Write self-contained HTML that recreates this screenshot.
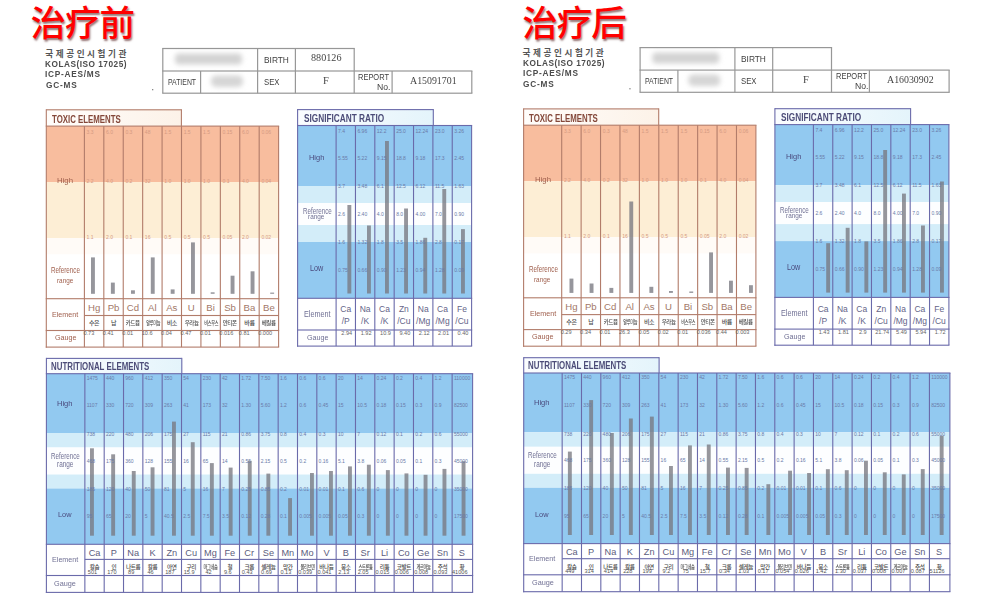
<!DOCTYPE html><html><head><meta charset="utf-8"><title>治疗前后对比</title><style>
*{margin:0;padding:0;box-sizing:border-box}
html,body{width:1000px;height:601px;overflow:hidden;background:#fff}
body{position:relative;font-family:"Liberation Sans","Noto Sans CJK KR",sans-serif}
body>div{position:absolute;white-space:nowrap}
.g{position:absolute;left:0;top:0}
.title{font-family:"Liberation Sans","Noto Sans CJK SC",sans-serif;font-weight:500;font-size:35.5px;line-height:44px;color:#ff0000;text-shadow:1px 2px 2px rgba(60,0,0,.55);letter-spacing:-1px}
.org{font-size:9px;line-height:11px;font-weight:bold;color:#4c4c4c;letter-spacing:.3px;transform:scaleX(.92);transform-origin:0 0}
.org.kor{font-family:"Liberation Sans","Noto Sans CJK KR",sans-serif;letter-spacing:2.55px;font-size:8.6px;transform:none;color:#555}
.tb{border:1.2px solid #8e8e8e}
.tv{border-left:1.2px solid #8e8e8e}
.tl{font-size:9px;line-height:10px;color:#555;transform:scaleX(.85);transform-origin:0 0}
.tv2{font-family:"Liberation Serif",serif;font-size:10.5px;line-height:12px;color:#444}
.ttab{background:linear-gradient(90deg,#fffdfb,#fcf3e9)}
.ttabt{font-weight:bold;font-size:10.8px;line-height:12px;color:#8c5446;transform:scaleX(.72);transform-origin:0 0;letter-spacing:.6px}
.btab{background:linear-gradient(90deg,#fbfdff,#e9f6fc)}
.btabt{font-weight:bold;font-size:10.8px;line-height:12px;color:#4a4a7c;transform:scaleX(.72);transform-origin:0 0;letter-spacing:.6px}
.tgv{background:#b27c6a}
.bgv{background:#6262a6}
.bar{background:rgba(85,85,95,.6)}
.tnum{font-size:5px;line-height:6px;color:#d49a82}
.bnum{font-size:5px;line-height:6px;color:#6a7aa8}
.tlab{font-size:8px;line-height:10px;color:#a86e5c;text-align:center;letter-spacing:-.3px}
.blab{font-size:8.5px;line-height:10px;color:#6e6e96;text-align:center;letter-spacing:-.3px}
.blab.sm{font-size:7.5px}
.tsym{font-size:9.6px;line-height:12px;color:#a27868;text-align:center}
.tkor{font-family:"Liberation Sans","Noto Sans CJK KR",sans-serif;font-weight:500;font-size:6px;line-height:8px;color:#4a4a4a;text-align:center;letter-spacing:-.4px}
.gval{font-size:5.6px;line-height:6px;color:#666}
.ssym{font-size:8.5px;color:#646488;text-align:center}
.nsym{font-size:9.2px;line-height:12px;color:#5c5c7c;text-align:center}
.nkor{font-family:"Liberation Sans","Noto Sans CJK KR",sans-serif;font-weight:500;font-size:5.6px;line-height:7px;color:#4a4a4a;text-align:center;letter-spacing:-.4px}
.nval{font-size:5.6px;line-height:6px;color:#555}
</style></head><body>
<svg class="g" width="1000" height="601" viewBox="0 0 1000 601"><defs><linearGradient id="gt" x1="0" x2="1" y1="0" y2="0"><stop offset="0" stop-color="#fffdfb"/><stop offset="1" stop-color="#fcf2e8"/></linearGradient><linearGradient id="gb" x1="0" x2="1" y1="0" y2="0"><stop offset="0" stop-color="#fbfdff"/><stop offset="1" stop-color="#e4f4fb"/></linearGradient><filter id="bl" x="-30%" y="-60%" width="160%" height="220%"><feGaussianBlur stdDeviation="2.6"/></filter></defs><rect x="152" y="89" width="1.3" height="1.3" fill="#888"/><rect x="175" y="53.5" width="67" height="11" fill="#d3d3d3" rx="4" filter="url(#bl)"/><rect x="211" y="75.5" width="32" height="11.5" fill="#d5d5d5" rx="5" filter="url(#bl)"/><rect x="162.2" y="47.9" width="192.6" height="1.2" fill="#979797"/><rect x="162.2" y="70.4" width="310.2" height="1.2" fill="#979797"/><rect x="162.2" y="92.6" width="310.2" height="1.2" fill="#979797"/><rect x="162.2" y="48.5" width="1.2" height="44.7" fill="#979797"/><rect x="257" y="48.5" width="1.2" height="44.7" fill="#979797"/><rect x="294.8" y="48.5" width="1.2" height="44.7" fill="#979797"/><rect x="353.6" y="48.5" width="1.2" height="44.7" fill="#979797"/><rect x="200" y="71" width="1.2" height="22.2" fill="#979797"/><rect x="391.5" y="71" width="1.2" height="22.2" fill="#979797"/><rect x="471.2" y="71" width="1.2" height="22.2" fill="#979797"/><rect x="46.3" y="109.8" width="135.1" height="16.3" fill="url(#gt)"/><rect x="46.3" y="126.1" width="232.3" height="55.9" fill="#f8bd9e"/><rect x="46.3" y="182" width="232.3" height="56.1" fill="#fdeed5"/><rect x="46.3" y="238.1" width="232.3" height="16.4" fill="#fffbf7"/><rect x="46.3" y="254.5" width="232.3" height="92.6" fill="#ffffff"/><rect x="91" y="257.4" width="3.9" height="36.4" fill="rgba(120,120,128,.78)"/><rect x="110.9" y="282.6" width="3.9" height="11.2" fill="rgba(120,120,128,.78)"/><rect x="131" y="290.3" width="3.9" height="3.5" fill="rgba(120,120,128,.78)"/><rect x="150.8" y="257.4" width="3.9" height="36.4" fill="rgba(120,120,128,.78)"/><rect x="170.7" y="289.4" width="3.9" height="4.4" fill="rgba(120,120,128,.78)"/><rect x="191" y="242.4" width="3.9" height="51.4" fill="rgba(120,120,128,.78)"/><rect x="210.7" y="292.3" width="3.9" height="1.5" fill="rgba(120,120,128,.78)"/><rect x="230.6" y="275.7" width="3.9" height="18.1" fill="rgba(120,120,128,.78)"/><rect x="250.6" y="271.3" width="3.9" height="22.5" fill="rgba(120,120,128,.78)"/><rect x="270.2" y="292.6" width="3.9" height="1.2" fill="rgba(120,120,128,.78)"/><rect x="83.85" y="126.1" width="1.1" height="221" fill="#b27c6a"/><rect x="103.27" y="126.1" width="1.1" height="221" fill="#b27c6a"/><rect x="122.69" y="126.1" width="1.1" height="221" fill="#b27c6a"/><rect x="142.11" y="126.1" width="1.1" height="221" fill="#b27c6a"/><rect x="161.53" y="126.1" width="1.1" height="221" fill="#b27c6a"/><rect x="180.95" y="126.1" width="1.1" height="221" fill="#b27c6a"/><rect x="200.37" y="126.1" width="1.1" height="221" fill="#b27c6a"/><rect x="219.79" y="126.1" width="1.1" height="221" fill="#b27c6a"/><rect x="239.21" y="126.1" width="1.1" height="221" fill="#b27c6a"/><rect x="258.63" y="126.1" width="1.1" height="221" fill="#b27c6a"/><rect x="278.05" y="126.1" width="1.1" height="221" fill="#b27c6a"/><rect x="45.75" y="109.25" width="1.1" height="238.4" fill="#b27c6a"/><rect x="180.85" y="109.25" width="1.1" height="16.85" fill="#b27c6a"/><rect x="46.3" y="109.25" width="135.1" height="1.1" fill="#b27c6a"/><rect x="45.75" y="125.55" width="233.4" height="1.1" fill="#b27c6a"/><rect x="45.75" y="298.15" width="233.4" height="1.1" fill="#b27c6a"/><rect x="45.75" y="329.95" width="233.4" height="1.1" fill="#b27c6a"/><rect x="45.75" y="346.55" width="233.4" height="1.1" fill="#b27c6a"/><rect x="84.4" y="314.95" width="194.2" height="1.1" fill="#b27c6a"/><rect x="297.6" y="109.6" width="135.7" height="15.9" fill="url(#gb)"/><rect x="297.6" y="125.5" width="174" height="60.5" fill="#92c9f0"/><rect x="297.6" y="186" width="174" height="17" fill="#d3edf9"/><rect x="297.6" y="203" width="174" height="22" fill="#fdfeff"/><rect x="297.6" y="225" width="174" height="17" fill="#d3edf9"/><rect x="297.6" y="242" width="174" height="56.3" fill="#92c9f0"/><rect x="297.6" y="298.3" width="174" height="47.8" fill="#ffffff"/><rect x="347.4" y="205" width="3.9" height="88.5" fill="rgba(120,120,128,.78)"/><rect x="367" y="225.5" width="3.9" height="68" fill="rgba(120,120,128,.78)"/><rect x="385" y="141" width="3.9" height="152.5" fill="rgba(120,120,128,.78)"/><rect x="404.1" y="208.5" width="3.9" height="85" fill="rgba(120,120,128,.78)"/><rect x="423.3" y="237.8" width="3.9" height="55.7" fill="rgba(120,120,128,.78)"/><rect x="442.3" y="189" width="3.9" height="104.5" fill="rgba(120,120,128,.78)"/><rect x="461" y="229.1" width="3.9" height="64.4" fill="rgba(120,120,128,.78)"/><rect x="335.55" y="125.5" width="1.1" height="220.6" fill="#6a6aaa"/><rect x="354.91" y="125.5" width="1.1" height="220.6" fill="#6a6aaa"/><rect x="374.26" y="125.5" width="1.1" height="220.6" fill="#6a6aaa"/><rect x="393.62" y="125.5" width="1.1" height="220.6" fill="#6a6aaa"/><rect x="412.98" y="125.5" width="1.1" height="220.6" fill="#6a6aaa"/><rect x="432.34" y="125.5" width="1.1" height="220.6" fill="#6a6aaa"/><rect x="451.69" y="125.5" width="1.1" height="220.6" fill="#6a6aaa"/><rect x="471.05" y="125.5" width="1.1" height="220.6" fill="#6a6aaa"/><rect x="297.05" y="109.05" width="1.1" height="237.6" fill="#6a6aaa"/><rect x="432.75" y="109.05" width="1.1" height="16.45" fill="#6a6aaa"/><rect x="297.6" y="109.05" width="135.7" height="1.1" fill="#6a6aaa"/><rect x="297.05" y="124.95" width="175.1" height="1.1" fill="#6a6aaa"/><rect x="297.05" y="297.75" width="175.1" height="1.1" fill="#6a6aaa"/><rect x="297.05" y="329.45" width="175.1" height="1.1" fill="#6a6aaa"/><rect x="297.05" y="345.55" width="175.1" height="1.1" fill="#6a6aaa"/><rect x="46.4" y="358.4" width="135.4" height="15.3" fill="url(#gb)"/><rect x="46.4" y="373.7" width="426.2" height="59.3" fill="#92c9f0"/><rect x="46.4" y="433" width="426.2" height="14.5" fill="#d3edf9"/><rect x="46.4" y="447.5" width="426.2" height="27" fill="#fdfeff"/><rect x="46.4" y="474.5" width="426.2" height="14" fill="#d3edf9"/><rect x="46.4" y="488.5" width="426.2" height="55.8" fill="#92c9f0"/><rect x="46.4" y="544.3" width="426.2" height="48.1" fill="#ffffff"/><rect x="90" y="448.3" width="3.9" height="87.4" fill="rgba(120,120,128,.78)"/><rect x="111.2" y="454.3" width="3.9" height="81.4" fill="rgba(120,120,128,.78)"/><rect x="131.8" y="471" width="3.9" height="64.7" fill="rgba(120,120,128,.78)"/><rect x="150.6" y="467.3" width="3.9" height="68.4" fill="rgba(120,120,128,.78)"/><rect x="172" y="421.6" width="3.9" height="114.1" fill="rgba(120,120,128,.78)"/><rect x="190.8" y="442.2" width="3.9" height="93.5" fill="rgba(120,120,128,.78)"/><rect x="209.9" y="463.1" width="3.9" height="72.6" fill="rgba(120,120,128,.78)"/><rect x="228.7" y="467.6" width="3.9" height="68.1" fill="rgba(120,120,128,.78)"/><rect x="247.8" y="460.8" width="3.9" height="74.9" fill="rgba(120,120,128,.78)"/><rect x="266.4" y="473.6" width="3.9" height="62.1" fill="rgba(120,120,128,.78)"/><rect x="288.1" y="498.1" width="3.9" height="37.6" fill="rgba(120,120,128,.78)"/><rect x="310" y="473" width="3.9" height="62.7" fill="rgba(120,120,128,.78)"/><rect x="329" y="471" width="3.9" height="64.7" fill="rgba(120,120,128,.78)"/><rect x="348" y="466.4" width="3.9" height="69.3" fill="rgba(120,120,128,.78)"/><rect x="366.9" y="464.7" width="3.9" height="71" fill="rgba(120,120,128,.78)"/><rect x="385.9" y="470.1" width="3.9" height="65.6" fill="rgba(120,120,128,.78)"/><rect x="404.5" y="473.4" width="3.9" height="62.3" fill="rgba(120,120,128,.78)"/><rect x="423.6" y="474.8" width="3.9" height="60.9" fill="rgba(120,120,128,.78)"/><rect x="442.5" y="468.9" width="3.9" height="66.8" fill="rgba(120,120,128,.78)"/><rect x="461.6" y="461.2" width="3.9" height="74.5" fill="rgba(120,120,128,.78)"/><rect x="84.31" y="373.7" width="1.1" height="218.7" fill="#6a6aaa"/><rect x="103.64" y="373.7" width="1.1" height="218.7" fill="#6a6aaa"/><rect x="122.97" y="373.7" width="1.1" height="218.7" fill="#6a6aaa"/><rect x="142.3" y="373.7" width="1.1" height="218.7" fill="#6a6aaa"/><rect x="161.63" y="373.7" width="1.1" height="218.7" fill="#6a6aaa"/><rect x="180.96" y="373.7" width="1.1" height="218.7" fill="#6a6aaa"/><rect x="200.29" y="373.7" width="1.1" height="218.7" fill="#6a6aaa"/><rect x="219.62" y="373.7" width="1.1" height="218.7" fill="#6a6aaa"/><rect x="238.95" y="373.7" width="1.1" height="218.7" fill="#6a6aaa"/><rect x="258.28" y="373.7" width="1.1" height="218.7" fill="#6a6aaa"/><rect x="277.61" y="373.7" width="1.1" height="218.7" fill="#6a6aaa"/><rect x="296.94" y="373.7" width="1.1" height="218.7" fill="#6a6aaa"/><rect x="316.27" y="373.7" width="1.1" height="218.7" fill="#6a6aaa"/><rect x="335.6" y="373.7" width="1.1" height="218.7" fill="#6a6aaa"/><rect x="354.93" y="373.7" width="1.1" height="218.7" fill="#6a6aaa"/><rect x="374.26" y="373.7" width="1.1" height="218.7" fill="#6a6aaa"/><rect x="393.59" y="373.7" width="1.1" height="218.7" fill="#6a6aaa"/><rect x="412.92" y="373.7" width="1.1" height="218.7" fill="#6a6aaa"/><rect x="432.25" y="373.7" width="1.1" height="218.7" fill="#6a6aaa"/><rect x="451.58" y="373.7" width="1.1" height="218.7" fill="#6a6aaa"/><rect x="472.05" y="373.7" width="1.1" height="218.7" fill="#6a6aaa"/><rect x="45.85" y="357.85" width="1.1" height="235.1" fill="#6a6aaa"/><rect x="181.25" y="357.85" width="1.1" height="15.85" fill="#6a6aaa"/><rect x="46.4" y="357.85" width="135.4" height="1.1" fill="#6a6aaa"/><rect x="45.85" y="373.15" width="427.3" height="1.1" fill="#6a6aaa"/><rect x="45.85" y="543.75" width="427.3" height="1.1" fill="#6a6aaa"/><rect x="45.85" y="574.95" width="427.3" height="1.1" fill="#6a6aaa"/><rect x="45.85" y="591.85" width="427.3" height="1.1" fill="#6a6aaa"/><rect x="84.86" y="558.85" width="387.74" height="1.1" fill="#6a6aaa"/><rect x="629.3" y="88.1" width="1.3" height="1.3" fill="#888"/><rect x="652.3" y="52.6" width="67" height="11" fill="#d3d3d3" rx="4" filter="url(#bl)"/><rect x="688.3" y="74.6" width="32" height="11.5" fill="#d5d5d5" rx="5" filter="url(#bl)"/><rect x="639.5" y="47" width="192.6" height="1.2" fill="#979797"/><rect x="639.5" y="69.5" width="310.2" height="1.2" fill="#979797"/><rect x="639.5" y="91.7" width="310.2" height="1.2" fill="#979797"/><rect x="639.5" y="47.6" width="1.2" height="44.7" fill="#979797"/><rect x="734.3" y="47.6" width="1.2" height="44.7" fill="#979797"/><rect x="772.1" y="47.6" width="1.2" height="44.7" fill="#979797"/><rect x="830.9" y="47.6" width="1.2" height="44.7" fill="#979797"/><rect x="677.3" y="70.1" width="1.2" height="22.2" fill="#979797"/><rect x="868.8" y="70.1" width="1.2" height="22.2" fill="#979797"/><rect x="948.5" y="70.1" width="1.2" height="22.2" fill="#979797"/><rect x="523.6" y="108.9" width="135.1" height="16.3" fill="url(#gt)"/><rect x="523.6" y="125.2" width="232.3" height="55.9" fill="#f8bd9e"/><rect x="523.6" y="181.1" width="232.3" height="56.1" fill="#fdeed5"/><rect x="523.6" y="237.2" width="232.3" height="16.4" fill="#fffbf7"/><rect x="523.6" y="253.6" width="232.3" height="92.6" fill="#ffffff"/><rect x="569.5" y="278.6" width="3.9" height="14.3" fill="rgba(120,120,128,.78)"/><rect x="589.6" y="283.5" width="3.9" height="9.4" fill="rgba(120,120,128,.78)"/><rect x="609.4" y="287.9" width="3.9" height="5" fill="rgba(120,120,128,.78)"/><rect x="629.3" y="201.5" width="3.9" height="91.4" fill="rgba(120,120,128,.78)"/><rect x="649.4" y="286.8" width="3.9" height="6.1" fill="rgba(120,120,128,.78)"/><rect x="669" y="291" width="3.9" height="1.9" fill="rgba(120,120,128,.78)"/><rect x="689.3" y="291.5" width="3.9" height="1.4" fill="rgba(120,120,128,.78)"/><rect x="709.1" y="252.4" width="3.9" height="40.5" fill="rgba(120,120,128,.78)"/><rect x="729" y="280.7" width="3.9" height="12.2" fill="rgba(120,120,128,.78)"/><rect x="749" y="285.2" width="3.9" height="7.7" fill="rgba(120,120,128,.78)"/><rect x="561.15" y="125.2" width="1.1" height="221" fill="#b27c6a"/><rect x="580.57" y="125.2" width="1.1" height="221" fill="#b27c6a"/><rect x="599.99" y="125.2" width="1.1" height="221" fill="#b27c6a"/><rect x="619.41" y="125.2" width="1.1" height="221" fill="#b27c6a"/><rect x="638.83" y="125.2" width="1.1" height="221" fill="#b27c6a"/><rect x="658.25" y="125.2" width="1.1" height="221" fill="#b27c6a"/><rect x="677.67" y="125.2" width="1.1" height="221" fill="#b27c6a"/><rect x="697.09" y="125.2" width="1.1" height="221" fill="#b27c6a"/><rect x="716.51" y="125.2" width="1.1" height="221" fill="#b27c6a"/><rect x="735.93" y="125.2" width="1.1" height="221" fill="#b27c6a"/><rect x="755.35" y="125.2" width="1.1" height="221" fill="#b27c6a"/><rect x="523.05" y="108.35" width="1.1" height="238.4" fill="#b27c6a"/><rect x="658.15" y="108.35" width="1.1" height="16.85" fill="#b27c6a"/><rect x="523.6" y="108.35" width="135.1" height="1.1" fill="#b27c6a"/><rect x="523.05" y="124.65" width="233.4" height="1.1" fill="#b27c6a"/><rect x="523.05" y="297.25" width="233.4" height="1.1" fill="#b27c6a"/><rect x="523.05" y="329.05" width="233.4" height="1.1" fill="#b27c6a"/><rect x="523.05" y="345.65" width="233.4" height="1.1" fill="#b27c6a"/><rect x="561.7" y="314.05" width="194.2" height="1.1" fill="#b27c6a"/><rect x="774.9" y="108.7" width="135.7" height="15.9" fill="url(#gb)"/><rect x="774.9" y="124.6" width="174" height="60.5" fill="#92c9f0"/><rect x="774.9" y="185.1" width="174" height="17" fill="#d3edf9"/><rect x="774.9" y="202.1" width="174" height="22" fill="#fdfeff"/><rect x="774.9" y="224.1" width="174" height="17" fill="#d3edf9"/><rect x="774.9" y="241.1" width="174" height="56.3" fill="#92c9f0"/><rect x="774.9" y="297.4" width="174" height="47.8" fill="#ffffff"/><rect x="826.2" y="243.2" width="3.9" height="49.4" fill="rgba(120,120,128,.78)"/><rect x="845.7" y="227.8" width="3.9" height="64.8" fill="rgba(120,120,128,.78)"/><rect x="864.4" y="241.4" width="3.9" height="51.2" fill="rgba(120,120,128,.78)"/><rect x="883.2" y="150" width="3.9" height="142.6" fill="rgba(120,120,128,.78)"/><rect x="902" y="193.6" width="3.9" height="99" fill="rgba(120,120,128,.78)"/><rect x="921" y="225.5" width="3.9" height="67.1" fill="rgba(120,120,128,.78)"/><rect x="940" y="181.5" width="3.9" height="111.1" fill="rgba(120,120,128,.78)"/><rect x="812.85" y="124.6" width="1.1" height="220.6" fill="#6a6aaa"/><rect x="832.21" y="124.6" width="1.1" height="220.6" fill="#6a6aaa"/><rect x="851.56" y="124.6" width="1.1" height="220.6" fill="#6a6aaa"/><rect x="870.92" y="124.6" width="1.1" height="220.6" fill="#6a6aaa"/><rect x="890.28" y="124.6" width="1.1" height="220.6" fill="#6a6aaa"/><rect x="909.64" y="124.6" width="1.1" height="220.6" fill="#6a6aaa"/><rect x="928.99" y="124.6" width="1.1" height="220.6" fill="#6a6aaa"/><rect x="948.35" y="124.6" width="1.1" height="220.6" fill="#6a6aaa"/><rect x="774.35" y="108.15" width="1.1" height="237.6" fill="#6a6aaa"/><rect x="910.05" y="108.15" width="1.1" height="16.45" fill="#6a6aaa"/><rect x="774.9" y="108.15" width="135.7" height="1.1" fill="#6a6aaa"/><rect x="774.35" y="124.05" width="175.1" height="1.1" fill="#6a6aaa"/><rect x="774.35" y="296.85" width="175.1" height="1.1" fill="#6a6aaa"/><rect x="774.35" y="328.55" width="175.1" height="1.1" fill="#6a6aaa"/><rect x="774.35" y="344.65" width="175.1" height="1.1" fill="#6a6aaa"/><rect x="523.7" y="357.7" width="135.4" height="15.3" fill="url(#gb)"/><rect x="523.7" y="373" width="426.2" height="59.3" fill="#92c9f0"/><rect x="523.7" y="432.3" width="426.2" height="14.5" fill="#d3edf9"/><rect x="523.7" y="446.8" width="426.2" height="27" fill="#fdfeff"/><rect x="523.7" y="473.8" width="426.2" height="14" fill="#d3edf9"/><rect x="523.7" y="487.8" width="426.2" height="55.8" fill="#92c9f0"/><rect x="523.7" y="543.6" width="426.2" height="48.1" fill="#ffffff"/><rect x="567.9" y="451.6" width="3.9" height="83.4" fill="rgba(120,120,128,.78)"/><rect x="589.2" y="400.1" width="3.9" height="134.9" fill="rgba(120,120,128,.78)"/><rect x="609.9" y="433" width="3.9" height="102" fill="rgba(120,120,128,.78)"/><rect x="628.9" y="418.5" width="3.9" height="116.5" fill="rgba(120,120,128,.78)"/><rect x="649.9" y="416.6" width="3.9" height="118.4" fill="rgba(120,120,128,.78)"/><rect x="669" y="466" width="3.9" height="69" fill="rgba(120,120,128,.78)"/><rect x="688" y="445.4" width="3.9" height="89.6" fill="rgba(120,120,128,.78)"/><rect x="706.8" y="444.5" width="3.9" height="90.5" fill="rgba(120,120,128,.78)"/><rect x="726" y="467.6" width="3.9" height="67.4" fill="rgba(120,120,128,.78)"/><rect x="744.7" y="467.9" width="3.9" height="67.1" fill="rgba(120,120,128,.78)"/><rect x="766.4" y="484.2" width="3.9" height="50.8" fill="rgba(120,120,128,.78)"/><rect x="788.1" y="470.7" width="3.9" height="64.3" fill="rgba(120,120,128,.78)"/><rect x="807.1" y="473" width="3.9" height="62" fill="rgba(120,120,128,.78)"/><rect x="825.9" y="469.2" width="3.9" height="65.8" fill="rgba(120,120,128,.78)"/><rect x="844.8" y="470.2" width="3.9" height="64.8" fill="rgba(120,120,128,.78)"/><rect x="864" y="460.7" width="3.9" height="74.3" fill="rgba(120,120,128,.78)"/><rect x="882.8" y="472.3" width="3.9" height="62.7" fill="rgba(120,120,128,.78)"/><rect x="901.8" y="474.4" width="3.9" height="60.6" fill="rgba(120,120,128,.78)"/><rect x="920.8" y="469.1" width="3.9" height="65.9" fill="rgba(120,120,128,.78)"/><rect x="939.7" y="435.8" width="3.9" height="99.2" fill="rgba(120,120,128,.78)"/><rect x="561.61" y="373" width="1.1" height="218.7" fill="#6a6aaa"/><rect x="580.94" y="373" width="1.1" height="218.7" fill="#6a6aaa"/><rect x="600.27" y="373" width="1.1" height="218.7" fill="#6a6aaa"/><rect x="619.6" y="373" width="1.1" height="218.7" fill="#6a6aaa"/><rect x="638.93" y="373" width="1.1" height="218.7" fill="#6a6aaa"/><rect x="658.26" y="373" width="1.1" height="218.7" fill="#6a6aaa"/><rect x="677.59" y="373" width="1.1" height="218.7" fill="#6a6aaa"/><rect x="696.92" y="373" width="1.1" height="218.7" fill="#6a6aaa"/><rect x="716.25" y="373" width="1.1" height="218.7" fill="#6a6aaa"/><rect x="735.58" y="373" width="1.1" height="218.7" fill="#6a6aaa"/><rect x="754.91" y="373" width="1.1" height="218.7" fill="#6a6aaa"/><rect x="774.24" y="373" width="1.1" height="218.7" fill="#6a6aaa"/><rect x="793.57" y="373" width="1.1" height="218.7" fill="#6a6aaa"/><rect x="812.9" y="373" width="1.1" height="218.7" fill="#6a6aaa"/><rect x="832.23" y="373" width="1.1" height="218.7" fill="#6a6aaa"/><rect x="851.56" y="373" width="1.1" height="218.7" fill="#6a6aaa"/><rect x="870.89" y="373" width="1.1" height="218.7" fill="#6a6aaa"/><rect x="890.22" y="373" width="1.1" height="218.7" fill="#6a6aaa"/><rect x="909.55" y="373" width="1.1" height="218.7" fill="#6a6aaa"/><rect x="928.88" y="373" width="1.1" height="218.7" fill="#6a6aaa"/><rect x="949.35" y="373" width="1.1" height="218.7" fill="#6a6aaa"/><rect x="523.15" y="357.15" width="1.1" height="235.1" fill="#6a6aaa"/><rect x="658.55" y="357.15" width="1.1" height="15.85" fill="#6a6aaa"/><rect x="523.7" y="357.15" width="135.4" height="1.1" fill="#6a6aaa"/><rect x="523.15" y="372.45" width="427.3" height="1.1" fill="#6a6aaa"/><rect x="523.15" y="543.05" width="427.3" height="1.1" fill="#6a6aaa"/><rect x="523.15" y="574.25" width="427.3" height="1.1" fill="#6a6aaa"/><rect x="523.15" y="591.15" width="427.3" height="1.1" fill="#6a6aaa"/><rect x="562.16" y="558.15" width="387.74" height="1.1" fill="#6a6aaa"/></svg>
<div class="title" style="left:30.5px;top:2px;">治疗前</div>
<div class="org kor" style="left:45.3px;top:48.6px;">국제공인시험기관</div>
<div class="org" style="left:45.3px;top:59px;letter-spacing:.54px">KOLAS(ISO 17025)</div>
<div class="org" style="left:45.3px;top:68.8px;letter-spacing:.8px">ICP-AES/MS</div>
<div class="org" style="left:45.6px;top:79.5px;letter-spacing:.84px">GC-MS</div>
<div class="tnum" style="left:86.6px;top:129px;">3.3</div>
<div class="tnum" style="left:86.6px;top:177.7px;">2.2</div>
<div class="tnum" style="left:86.6px;top:234px;">1.1</div>
<div class="tnum" style="left:106.02px;top:129px;">6.0</div>
<div class="tnum" style="left:106.02px;top:177.7px;">4.0</div>
<div class="tnum" style="left:106.02px;top:234px;">2.0</div>
<div class="tnum" style="left:125.44px;top:129px;">0.3</div>
<div class="tnum" style="left:125.44px;top:177.7px;">0.2</div>
<div class="tnum" style="left:125.44px;top:234px;">0.1</div>
<div class="tnum" style="left:144.86px;top:129px;">48</div>
<div class="tnum" style="left:144.86px;top:177.7px;">32</div>
<div class="tnum" style="left:144.86px;top:234px;">16</div>
<div class="tnum" style="left:164.28px;top:129px;">1.5</div>
<div class="tnum" style="left:164.28px;top:177.7px;">1.0</div>
<div class="tnum" style="left:164.28px;top:234px;">0.5</div>
<div class="tnum" style="left:183.7px;top:129px;">1.5</div>
<div class="tnum" style="left:183.7px;top:177.7px;">1.0</div>
<div class="tnum" style="left:183.7px;top:234px;">0.5</div>
<div class="tnum" style="left:203.12px;top:129px;">1.5</div>
<div class="tnum" style="left:203.12px;top:177.7px;">1.0</div>
<div class="tnum" style="left:203.12px;top:234px;">0.5</div>
<div class="tnum" style="left:222.54px;top:129px;">0.15</div>
<div class="tnum" style="left:222.54px;top:177.7px;">0.1</div>
<div class="tnum" style="left:222.54px;top:234px;">0.05</div>
<div class="tnum" style="left:241.96px;top:129px;">6.0</div>
<div class="tnum" style="left:241.96px;top:177.7px;">4.0</div>
<div class="tnum" style="left:241.96px;top:234px;">2.0</div>
<div class="tnum" style="left:261.38px;top:129px;">0.06</div>
<div class="tnum" style="left:261.38px;top:177.7px;">0.04</div>
<div class="tnum" style="left:261.38px;top:234px;">0.02</div>
<div class="tsym" style="left:84.4px;top:302px;width:19.42px">Hg</div>
<div class="tkor" style="left:84.4px;top:318.6px;width:19.42px"><span style="display:inline-block;transform:scaleX(1.00)">수은</span></div>
<div class="gval" style="left:83.4px;top:330.2px;">0.73</div>
<div class="tsym" style="left:103.82px;top:302px;width:19.42px">Pb</div>
<div class="tkor" style="left:103.82px;top:318.6px;width:19.42px"><span style="display:inline-block;transform:scaleX(1.00)">납</span></div>
<div class="gval" style="left:102.82px;top:330.2px;">0.41</div>
<div class="tsym" style="left:123.24px;top:302px;width:19.42px">Cd</div>
<div class="tkor" style="left:123.24px;top:318.6px;width:19.42px"><span style="display:inline-block;transform:scaleX(0.91)">카드뮴</span></div>
<div class="gval" style="left:122.24px;top:330.2px;">0.01</div>
<div class="tsym" style="left:142.66px;top:302px;width:19.42px">Al</div>
<div class="tkor" style="left:142.66px;top:318.6px;width:19.42px"><span style="display:inline-block;transform:scaleX(0.68)">알루미늄</span></div>
<div class="gval" style="left:141.66px;top:330.2px;">10.6</div>
<div class="tsym" style="left:162.08px;top:302px;width:19.42px">As</div>
<div class="tkor" style="left:162.08px;top:318.6px;width:19.42px"><span style="display:inline-block;transform:scaleX(1.00)">비소</span></div>
<div class="gval" style="left:161.08px;top:330.2px;">0.04</div>
<div class="tsym" style="left:181.5px;top:302px;width:19.42px">U</div>
<div class="tkor" style="left:181.5px;top:318.6px;width:19.42px"><span style="display:inline-block;transform:scaleX(0.91)">우라늄</span></div>
<div class="gval" style="left:180.5px;top:330.2px;">0.47</div>
<div class="tsym" style="left:200.92px;top:302px;width:19.42px">Bi</div>
<div class="tkor" style="left:200.92px;top:318.6px;width:19.42px"><span style="display:inline-block;transform:scaleX(0.68)">비스무스</span></div>
<div class="gval" style="left:199.92px;top:330.2px;">0.01</div>
<div class="tsym" style="left:220.34px;top:302px;width:19.42px">Sb</div>
<div class="tkor" style="left:220.34px;top:318.6px;width:19.42px"><span style="display:inline-block;transform:scaleX(0.91)">안티몬</span></div>
<div class="gval" style="left:219.34px;top:330.2px;">0.016</div>
<div class="tsym" style="left:239.76px;top:302px;width:19.42px">Ba</div>
<div class="tkor" style="left:239.76px;top:318.6px;width:19.42px"><span style="display:inline-block;transform:scaleX(1.00)">바륨</span></div>
<div class="gval" style="left:238.76px;top:330.2px;">0.81</div>
<div class="tsym" style="left:259.18px;top:302px;width:19.42px">Be</div>
<div class="tkor" style="left:259.18px;top:318.6px;width:19.42px"><span style="display:inline-block;transform:scaleX(0.91)">베릴륨</span></div>
<div class="gval" style="left:258.18px;top:330.2px;">0.000</div>
<div class="bnum" style="left:338.1px;top:127.6px;">7.4</div>
<div class="bnum" style="left:338.1px;top:155px;">5.55</div>
<div class="bnum" style="left:338.1px;top:182.8px;">3.7</div>
<div class="bnum" style="left:338.1px;top:211.2px;">2.6</div>
<div class="bnum" style="left:338.1px;top:238.6px;">1.6</div>
<div class="bnum" style="left:338.1px;top:267.3px;">0.75</div>
<div class="bnum" style="left:357.46px;top:127.6px;">6.96</div>
<div class="bnum" style="left:357.46px;top:155px;">5.22</div>
<div class="bnum" style="left:357.46px;top:182.8px;">3.48</div>
<div class="bnum" style="left:357.46px;top:211.2px;">2.40</div>
<div class="bnum" style="left:357.46px;top:238.6px;">1.32</div>
<div class="bnum" style="left:357.46px;top:267.3px;">0.66</div>
<div class="bnum" style="left:376.81px;top:127.6px;">12.2</div>
<div class="bnum" style="left:376.81px;top:155px;">9.15</div>
<div class="bnum" style="left:376.81px;top:182.8px;">6.1</div>
<div class="bnum" style="left:376.81px;top:211.2px;">4.0</div>
<div class="bnum" style="left:376.81px;top:238.6px;">1.8</div>
<div class="bnum" style="left:376.81px;top:267.3px;">0.90</div>
<div class="bnum" style="left:396.17px;top:127.6px;">25.0</div>
<div class="bnum" style="left:396.17px;top:155px;">18.8</div>
<div class="bnum" style="left:396.17px;top:182.8px;">12.5</div>
<div class="bnum" style="left:396.17px;top:211.2px;">8.0</div>
<div class="bnum" style="left:396.17px;top:238.6px;">3.5</div>
<div class="bnum" style="left:396.17px;top:267.3px;">1.23</div>
<div class="bnum" style="left:415.53px;top:127.6px;">12.24</div>
<div class="bnum" style="left:415.53px;top:155px;">9.18</div>
<div class="bnum" style="left:415.53px;top:182.8px;">6.12</div>
<div class="bnum" style="left:415.53px;top:211.2px;">4.00</div>
<div class="bnum" style="left:415.53px;top:238.6px;">1.86</div>
<div class="bnum" style="left:415.53px;top:267.3px;">0.94</div>
<div class="bnum" style="left:434.89px;top:127.6px;">23.0</div>
<div class="bnum" style="left:434.89px;top:155px;">17.3</div>
<div class="bnum" style="left:434.89px;top:182.8px;">11.5</div>
<div class="bnum" style="left:434.89px;top:211.2px;">7.0</div>
<div class="bnum" style="left:434.89px;top:238.6px;">2.8</div>
<div class="bnum" style="left:434.89px;top:267.3px;">1.28</div>
<div class="bnum" style="left:454.24px;top:127.6px;">3.26</div>
<div class="bnum" style="left:454.24px;top:155px;">2.45</div>
<div class="bnum" style="left:454.24px;top:182.8px;">1.63</div>
<div class="bnum" style="left:454.24px;top:211.2px;">0.90</div>
<div class="bnum" style="left:454.24px;top:238.6px;">0.17</div>
<div class="bnum" style="left:454.24px;top:267.3px;">0.09</div>
<div class="ssym" style="left:336.1px;top:304px;width:19.36px;line-height:11.7px">Ca<br>/P</div>
<div class="gval" style="left:337.1px;top:329.6px;width:19.36px;text-align:center">2.94</div>
<div class="ssym" style="left:355.46px;top:304px;width:19.36px;line-height:11.7px">Na<br>/K</div>
<div class="gval" style="left:356.46px;top:329.6px;width:19.36px;text-align:center">1.92</div>
<div class="ssym" style="left:374.81px;top:304px;width:19.36px;line-height:11.7px">Ca<br>/K</div>
<div class="gval" style="left:375.81px;top:329.6px;width:19.36px;text-align:center">10.9</div>
<div class="ssym" style="left:394.17px;top:304px;width:19.36px;line-height:11.7px">Zn<br>/Cu</div>
<div class="gval" style="left:395.17px;top:329.6px;width:19.36px;text-align:center">9.40</div>
<div class="ssym" style="left:413.53px;top:304px;width:19.36px;line-height:11.7px">Na<br>/Mg</div>
<div class="gval" style="left:414.53px;top:329.6px;width:19.36px;text-align:center">2.12</div>
<div class="ssym" style="left:432.89px;top:304px;width:19.36px;line-height:11.7px">Ca<br>/Mg</div>
<div class="gval" style="left:433.89px;top:329.6px;width:19.36px;text-align:center">2.01</div>
<div class="ssym" style="left:452.24px;top:304px;width:19.36px;line-height:11.7px">Fe<br>/Cu</div>
<div class="gval" style="left:453.24px;top:329.6px;width:19.36px;text-align:center">0.40</div>
<div class="bnum" style="left:86.66px;top:374.9px;">1475</div>
<div class="bnum" style="left:86.66px;top:402.4px;">1107</div>
<div class="bnum" style="left:86.66px;top:431.4px;">738</div>
<div class="bnum" style="left:86.66px;top:457.7px;">468</div>
<div class="bnum" style="left:86.66px;top:485.7px;">185</div>
<div class="bnum" style="left:86.66px;top:513.4px;">95</div>
<div class="bnum" style="left:105.99px;top:374.9px;">440</div>
<div class="bnum" style="left:105.99px;top:402.4px;">330</div>
<div class="bnum" style="left:105.99px;top:431.4px;">220</div>
<div class="bnum" style="left:105.99px;top:457.7px;">175</div>
<div class="bnum" style="left:105.99px;top:485.7px;">120</div>
<div class="bnum" style="left:105.99px;top:513.4px;">65</div>
<div class="bnum" style="left:125.32px;top:374.9px;">960</div>
<div class="bnum" style="left:125.32px;top:402.4px;">720</div>
<div class="bnum" style="left:125.32px;top:431.4px;">480</div>
<div class="bnum" style="left:125.32px;top:457.7px;">360</div>
<div class="bnum" style="left:125.32px;top:485.7px;">40</div>
<div class="bnum" style="left:125.32px;top:513.4px;">20</div>
<div class="bnum" style="left:144.65px;top:374.9px;">412</div>
<div class="bnum" style="left:144.65px;top:402.4px;">309</div>
<div class="bnum" style="left:144.65px;top:431.4px;">206</div>
<div class="bnum" style="left:144.65px;top:457.7px;">128</div>
<div class="bnum" style="left:144.65px;top:485.7px;">50</div>
<div class="bnum" style="left:144.65px;top:513.4px;">5</div>
<div class="bnum" style="left:163.98px;top:374.9px;">350</div>
<div class="bnum" style="left:163.98px;top:402.4px;">263</div>
<div class="bnum" style="left:163.98px;top:431.4px;">175</div>
<div class="bnum" style="left:163.98px;top:457.7px;">155</div>
<div class="bnum" style="left:163.98px;top:485.7px;">81</div>
<div class="bnum" style="left:163.98px;top:513.4px;">40.5</div>
<div class="bnum" style="left:183.31px;top:374.9px;">54</div>
<div class="bnum" style="left:183.31px;top:402.4px;">41</div>
<div class="bnum" style="left:183.31px;top:431.4px;">27</div>
<div class="bnum" style="left:183.31px;top:457.7px;">16</div>
<div class="bnum" style="left:183.31px;top:485.7px;">5</div>
<div class="bnum" style="left:183.31px;top:513.4px;">2.5</div>
<div class="bnum" style="left:202.64px;top:374.9px;">230</div>
<div class="bnum" style="left:202.64px;top:402.4px;">173</div>
<div class="bnum" style="left:202.64px;top:431.4px;">115</div>
<div class="bnum" style="left:202.64px;top:457.7px;">65</div>
<div class="bnum" style="left:202.64px;top:485.7px;">16</div>
<div class="bnum" style="left:202.64px;top:513.4px;">7.5</div>
<div class="bnum" style="left:221.97px;top:374.9px;">42</div>
<div class="bnum" style="left:221.97px;top:402.4px;">32</div>
<div class="bnum" style="left:221.97px;top:431.4px;">21</div>
<div class="bnum" style="left:221.97px;top:457.7px;">14</div>
<div class="bnum" style="left:221.97px;top:485.7px;">7</div>
<div class="bnum" style="left:221.97px;top:513.4px;">3.5</div>
<div class="bnum" style="left:241.3px;top:374.9px;">1.72</div>
<div class="bnum" style="left:241.3px;top:402.4px;">1.30</div>
<div class="bnum" style="left:241.3px;top:431.4px;">0.86</div>
<div class="bnum" style="left:241.3px;top:457.7px;">0.55</div>
<div class="bnum" style="left:241.3px;top:485.7px;">0.25</div>
<div class="bnum" style="left:241.3px;top:513.4px;">0.12</div>
<div class="bnum" style="left:260.63px;top:374.9px;">7.50</div>
<div class="bnum" style="left:260.63px;top:402.4px;">5.60</div>
<div class="bnum" style="left:260.63px;top:431.4px;">3.75</div>
<div class="bnum" style="left:260.63px;top:457.7px;">2.15</div>
<div class="bnum" style="left:260.63px;top:485.7px;">0.85</div>
<div class="bnum" style="left:260.63px;top:513.4px;">0.28</div>
<div class="bnum" style="left:279.96px;top:374.9px;">1.6</div>
<div class="bnum" style="left:279.96px;top:402.4px;">1.2</div>
<div class="bnum" style="left:279.96px;top:431.4px;">0.8</div>
<div class="bnum" style="left:279.96px;top:457.7px;">0.5</div>
<div class="bnum" style="left:279.96px;top:485.7px;">0.2</div>
<div class="bnum" style="left:279.96px;top:513.4px;">0.1</div>
<div class="bnum" style="left:299.29px;top:374.9px;">0.6</div>
<div class="bnum" style="left:299.29px;top:402.4px;">0.6</div>
<div class="bnum" style="left:299.29px;top:431.4px;">0.4</div>
<div class="bnum" style="left:299.29px;top:457.7px;">0.2</div>
<div class="bnum" style="left:299.29px;top:485.7px;">0.01</div>
<div class="bnum" style="left:299.29px;top:513.4px;">0.005</div>
<div class="bnum" style="left:318.62px;top:374.9px;">0.6</div>
<div class="bnum" style="left:318.62px;top:402.4px;">0.45</div>
<div class="bnum" style="left:318.62px;top:431.4px;">0.3</div>
<div class="bnum" style="left:318.62px;top:457.7px;">0.16</div>
<div class="bnum" style="left:318.62px;top:485.7px;">0.01</div>
<div class="bnum" style="left:318.62px;top:513.4px;">0.005</div>
<div class="bnum" style="left:337.95px;top:374.9px;">20</div>
<div class="bnum" style="left:337.95px;top:402.4px;">15</div>
<div class="bnum" style="left:337.95px;top:431.4px;">10</div>
<div class="bnum" style="left:337.95px;top:457.7px;">5.1</div>
<div class="bnum" style="left:337.95px;top:485.7px;">0.1</div>
<div class="bnum" style="left:337.95px;top:513.4px;">0.05</div>
<div class="bnum" style="left:357.28px;top:374.9px;">14</div>
<div class="bnum" style="left:357.28px;top:402.4px;">10.5</div>
<div class="bnum" style="left:357.28px;top:431.4px;">7</div>
<div class="bnum" style="left:357.28px;top:457.7px;">3.8</div>
<div class="bnum" style="left:357.28px;top:485.7px;">0.6</div>
<div class="bnum" style="left:357.28px;top:513.4px;">0.3</div>
<div class="bnum" style="left:376.61px;top:374.9px;">0.24</div>
<div class="bnum" style="left:376.61px;top:402.4px;">0.18</div>
<div class="bnum" style="left:376.61px;top:431.4px;">0.12</div>
<div class="bnum" style="left:376.61px;top:457.7px;">0.06</div>
<div class="bnum" style="left:376.61px;top:485.7px;">0</div>
<div class="bnum" style="left:376.61px;top:513.4px;">0</div>
<div class="bnum" style="left:395.94px;top:374.9px;">0.2</div>
<div class="bnum" style="left:395.94px;top:402.4px;">0.15</div>
<div class="bnum" style="left:395.94px;top:431.4px;">0.1</div>
<div class="bnum" style="left:395.94px;top:457.7px;">0.05</div>
<div class="bnum" style="left:395.94px;top:485.7px;">0</div>
<div class="bnum" style="left:395.94px;top:513.4px;">0</div>
<div class="bnum" style="left:415.27px;top:374.9px;">0.4</div>
<div class="bnum" style="left:415.27px;top:402.4px;">0.3</div>
<div class="bnum" style="left:415.27px;top:431.4px;">0.2</div>
<div class="bnum" style="left:415.27px;top:457.7px;">0.1</div>
<div class="bnum" style="left:415.27px;top:485.7px;">0</div>
<div class="bnum" style="left:415.27px;top:513.4px;">0</div>
<div class="bnum" style="left:434.6px;top:374.9px;">1.2</div>
<div class="bnum" style="left:434.6px;top:402.4px;">0.9</div>
<div class="bnum" style="left:434.6px;top:431.4px;">0.6</div>
<div class="bnum" style="left:434.6px;top:457.7px;">0.3</div>
<div class="bnum" style="left:434.6px;top:485.7px;">0</div>
<div class="bnum" style="left:434.6px;top:513.4px;">0</div>
<div class="bnum" style="left:453.93px;top:374.9px;">110000</div>
<div class="bnum" style="left:453.93px;top:402.4px;">82500</div>
<div class="bnum" style="left:453.93px;top:431.4px;">55000</div>
<div class="bnum" style="left:453.93px;top:457.7px;">45000</div>
<div class="bnum" style="left:453.93px;top:485.7px;">35000</div>
<div class="bnum" style="left:453.93px;top:513.4px;">17500</div>
<div class="nsym" style="left:84.86px;top:546.5px;width:19.33px">Ca</div>
<div class="nkor" style="left:84.86px;top:564.2px;width:19.33px"><span style="display:inline-block;transform:scaleX(1.00)">칼슘</span></div>
<div class="nval" style="left:82.86px;top:568.8px;width:19.33px;text-align:center">501</div>
<div class="nsym" style="left:104.19px;top:546.5px;width:19.33px">P</div>
<div class="nkor" style="left:104.19px;top:564.2px;width:19.33px"><span style="display:inline-block;transform:scaleX(1.00)">인</span></div>
<div class="nval" style="left:102.19px;top:568.8px;width:19.33px;text-align:center">170</div>
<div class="nsym" style="left:123.52px;top:546.5px;width:19.33px">Na</div>
<div class="nkor" style="left:123.52px;top:564.2px;width:19.33px"><span style="display:inline-block;transform:scaleX(1.00)">나트륨</span></div>
<div class="nval" style="left:121.52px;top:568.8px;width:19.33px;text-align:center">89</div>
<div class="nsym" style="left:142.85px;top:546.5px;width:19.33px">K</div>
<div class="nkor" style="left:142.85px;top:564.2px;width:19.33px"><span style="display:inline-block;transform:scaleX(1.00)">칼륨</span></div>
<div class="nval" style="left:140.85px;top:568.8px;width:19.33px;text-align:center">46</div>
<div class="nsym" style="left:162.18px;top:546.5px;width:19.33px">Zn</div>
<div class="nkor" style="left:162.18px;top:564.2px;width:19.33px"><span style="display:inline-block;transform:scaleX(1.00)">아연</span></div>
<div class="nval" style="left:160.18px;top:568.8px;width:19.33px;text-align:center">187</div>
<div class="nsym" style="left:181.51px;top:546.5px;width:19.33px">Cu</div>
<div class="nkor" style="left:181.51px;top:564.2px;width:19.33px"><span style="display:inline-block;transform:scaleX(1.00)">구리</span></div>
<div class="nval" style="left:179.51px;top:568.8px;width:19.33px;text-align:center">15.9</div>
<div class="nsym" style="left:200.84px;top:546.5px;width:19.33px">Mg</div>
<div class="nkor" style="left:200.84px;top:564.2px;width:19.33px"><span style="display:inline-block;transform:scaleX(0.75)">마그네슘</span></div>
<div class="nval" style="left:198.84px;top:568.8px;width:19.33px;text-align:center">42</div>
<div class="nsym" style="left:220.17px;top:546.5px;width:19.33px">Fe</div>
<div class="nkor" style="left:220.17px;top:564.2px;width:19.33px"><span style="display:inline-block;transform:scaleX(1.00)">철</span></div>
<div class="nval" style="left:218.17px;top:568.8px;width:19.33px;text-align:center">9.6</div>
<div class="nsym" style="left:239.5px;top:546.5px;width:19.33px">Cr</div>
<div class="nkor" style="left:239.5px;top:564.2px;width:19.33px"><span style="display:inline-block;transform:scaleX(1.00)">크롬</span></div>
<div class="nval" style="left:237.5px;top:568.8px;width:19.33px;text-align:center">0.43</div>
<div class="nsym" style="left:258.83px;top:546.5px;width:19.33px">Se</div>
<div class="nkor" style="left:258.83px;top:564.2px;width:19.33px"><span style="display:inline-block;transform:scaleX(1.00)">셀레늄</span></div>
<div class="nval" style="left:256.83px;top:568.8px;width:19.33px;text-align:center">0.69</div>
<div class="nsym" style="left:278.16px;top:546.5px;width:19.33px">Mn</div>
<div class="nkor" style="left:278.16px;top:564.2px;width:19.33px"><span style="display:inline-block;transform:scaleX(1.00)">망간</span></div>
<div class="nval" style="left:276.16px;top:568.8px;width:19.33px;text-align:center">0.13</div>
<div class="nsym" style="left:297.49px;top:546.5px;width:19.33px">Mo</div>
<div class="nkor" style="left:297.49px;top:564.2px;width:19.33px"><span style="display:inline-block;transform:scaleX(0.75)">몰리브덴</span></div>
<div class="nval" style="left:295.49px;top:568.8px;width:19.33px;text-align:center">0.039</div>
<div class="nsym" style="left:316.82px;top:546.5px;width:19.33px">V</div>
<div class="nkor" style="left:316.82px;top:564.2px;width:19.33px"><span style="display:inline-block;transform:scaleX(1.00)">바나듐</span></div>
<div class="nval" style="left:314.82px;top:568.8px;width:19.33px;text-align:center">0.041</div>
<div class="nsym" style="left:336.15px;top:546.5px;width:19.33px">B</div>
<div class="nkor" style="left:336.15px;top:564.2px;width:19.33px"><span style="display:inline-block;transform:scaleX(1.00)">붕소</span></div>
<div class="nval" style="left:334.15px;top:568.8px;width:19.33px;text-align:center">2.13</div>
<div class="nsym" style="left:355.48px;top:546.5px;width:19.33px">Sr</div>
<div class="nkor" style="left:355.48px;top:564.2px;width:19.33px"><span style="display:inline-block;transform:scaleX(0.75)">스트론튬</span></div>
<div class="nval" style="left:353.48px;top:568.8px;width:19.33px;text-align:center">2.05</div>
<div class="nsym" style="left:374.81px;top:546.5px;width:19.33px">Li</div>
<div class="nkor" style="left:374.81px;top:564.2px;width:19.33px"><span style="display:inline-block;transform:scaleX(1.00)">리튬</span></div>
<div class="nval" style="left:372.81px;top:568.8px;width:19.33px;text-align:center">0.015</div>
<div class="nsym" style="left:394.14px;top:546.5px;width:19.33px">Co</div>
<div class="nkor" style="left:394.14px;top:564.2px;width:19.33px"><span style="display:inline-block;transform:scaleX(1.00)">코발트</span></div>
<div class="nval" style="left:392.14px;top:568.8px;width:19.33px;text-align:center">0.006</div>
<div class="nsym" style="left:413.47px;top:546.5px;width:19.33px">Ge</div>
<div class="nkor" style="left:413.47px;top:564.2px;width:19.33px"><span style="display:inline-block;transform:scaleX(0.75)">게르마늄</span></div>
<div class="nval" style="left:411.47px;top:568.8px;width:19.33px;text-align:center">0.008</div>
<div class="nsym" style="left:432.8px;top:546.5px;width:19.33px">Sn</div>
<div class="nkor" style="left:432.8px;top:564.2px;width:19.33px"><span style="display:inline-block;transform:scaleX(1.00)">주석</span></div>
<div class="nval" style="left:430.8px;top:568.8px;width:19.33px;text-align:center">0.093</div>
<div class="nsym" style="left:452.13px;top:546.5px;width:19.33px">S</div>
<div class="nkor" style="left:452.13px;top:564.2px;width:19.33px"><span style="display:inline-block;transform:scaleX(1.00)">황</span></div>
<div class="nval" style="left:450.13px;top:568.8px;width:19.33px;text-align:center">41006</div>
<div class="title" style="left:522.3px;top:2.3px;">治疗后</div>
<div class="org kor" style="left:522.6px;top:47.7px;">국제공인시험기관</div>
<div class="org" style="left:522.6px;top:58.1px;letter-spacing:.54px">KOLAS(ISO 17025)</div>
<div class="org" style="left:522.6px;top:67.9px;letter-spacing:.8px">ICP-AES/MS</div>
<div class="org" style="left:522.9px;top:78.6px;letter-spacing:.84px">GC-MS</div>
<div class="tnum" style="left:563.9px;top:128.1px;">3.3</div>
<div class="tnum" style="left:563.9px;top:176.8px;">2.2</div>
<div class="tnum" style="left:563.9px;top:233.1px;">1.1</div>
<div class="tnum" style="left:583.32px;top:128.1px;">6.0</div>
<div class="tnum" style="left:583.32px;top:176.8px;">4.0</div>
<div class="tnum" style="left:583.32px;top:233.1px;">2.0</div>
<div class="tnum" style="left:602.74px;top:128.1px;">0.3</div>
<div class="tnum" style="left:602.74px;top:176.8px;">0.2</div>
<div class="tnum" style="left:602.74px;top:233.1px;">0.1</div>
<div class="tnum" style="left:622.16px;top:128.1px;">48</div>
<div class="tnum" style="left:622.16px;top:176.8px;">32</div>
<div class="tnum" style="left:622.16px;top:233.1px;">16</div>
<div class="tnum" style="left:641.58px;top:128.1px;">1.5</div>
<div class="tnum" style="left:641.58px;top:176.8px;">1.0</div>
<div class="tnum" style="left:641.58px;top:233.1px;">0.5</div>
<div class="tnum" style="left:661px;top:128.1px;">1.5</div>
<div class="tnum" style="left:661px;top:176.8px;">1.0</div>
<div class="tnum" style="left:661px;top:233.1px;">0.5</div>
<div class="tnum" style="left:680.42px;top:128.1px;">1.5</div>
<div class="tnum" style="left:680.42px;top:176.8px;">1.0</div>
<div class="tnum" style="left:680.42px;top:233.1px;">0.5</div>
<div class="tnum" style="left:699.84px;top:128.1px;">0.15</div>
<div class="tnum" style="left:699.84px;top:176.8px;">0.1</div>
<div class="tnum" style="left:699.84px;top:233.1px;">0.05</div>
<div class="tnum" style="left:719.26px;top:128.1px;">6.0</div>
<div class="tnum" style="left:719.26px;top:176.8px;">4.0</div>
<div class="tnum" style="left:719.26px;top:233.1px;">2.0</div>
<div class="tnum" style="left:738.68px;top:128.1px;">0.06</div>
<div class="tnum" style="left:738.68px;top:176.8px;">0.04</div>
<div class="tnum" style="left:738.68px;top:233.1px;">0.02</div>
<div class="tsym" style="left:561.7px;top:301.1px;width:19.42px">Hg</div>
<div class="tkor" style="left:561.7px;top:317.7px;width:19.42px"><span style="display:inline-block;transform:scaleX(1.00)">수은</span></div>
<div class="gval" style="left:560.7px;top:329.3px;">0.29</div>
<div class="tsym" style="left:581.12px;top:301.1px;width:19.42px">Pb</div>
<div class="tkor" style="left:581.12px;top:317.7px;width:19.42px"><span style="display:inline-block;transform:scaleX(1.00)">납</span></div>
<div class="gval" style="left:580.12px;top:329.3px;">0.34</div>
<div class="tsym" style="left:600.54px;top:301.1px;width:19.42px">Cd</div>
<div class="tkor" style="left:600.54px;top:317.7px;width:19.42px"><span style="display:inline-block;transform:scaleX(0.91)">카드뮴</span></div>
<div class="gval" style="left:599.54px;top:329.3px;">0.01</div>
<div class="tsym" style="left:619.96px;top:301.1px;width:19.42px">Al</div>
<div class="tkor" style="left:619.96px;top:317.7px;width:19.42px"><span style="display:inline-block;transform:scaleX(0.68)">알루미늄</span></div>
<div class="gval" style="left:618.96px;top:329.3px;">26.3</div>
<div class="tsym" style="left:639.38px;top:301.1px;width:19.42px">As</div>
<div class="tkor" style="left:639.38px;top:317.7px;width:19.42px"><span style="display:inline-block;transform:scaleX(1.00)">비소</span></div>
<div class="gval" style="left:638.38px;top:329.3px;">0.05</div>
<div class="tsym" style="left:658.8px;top:301.1px;width:19.42px">U</div>
<div class="tkor" style="left:658.8px;top:317.7px;width:19.42px"><span style="display:inline-block;transform:scaleX(0.91)">우라늄</span></div>
<div class="gval" style="left:657.8px;top:329.3px;">0.02</div>
<div class="tsym" style="left:678.22px;top:301.1px;width:19.42px">Bi</div>
<div class="tkor" style="left:678.22px;top:317.7px;width:19.42px"><span style="display:inline-block;transform:scaleX(0.68)">비스무스</span></div>
<div class="gval" style="left:677.22px;top:329.3px;">0.01</div>
<div class="tsym" style="left:697.64px;top:301.1px;width:19.42px">Sb</div>
<div class="tkor" style="left:697.64px;top:317.7px;width:19.42px"><span style="display:inline-block;transform:scaleX(0.91)">안티몬</span></div>
<div class="gval" style="left:696.64px;top:329.3px;">0.036</div>
<div class="tsym" style="left:717.06px;top:301.1px;width:19.42px">Ba</div>
<div class="tkor" style="left:717.06px;top:317.7px;width:19.42px"><span style="display:inline-block;transform:scaleX(1.00)">바륨</span></div>
<div class="gval" style="left:716.06px;top:329.3px;">0.44</div>
<div class="tsym" style="left:736.48px;top:301.1px;width:19.42px">Be</div>
<div class="tkor" style="left:736.48px;top:317.7px;width:19.42px"><span style="display:inline-block;transform:scaleX(0.91)">베릴륨</span></div>
<div class="gval" style="left:735.48px;top:329.3px;">0.003</div>
<div class="bnum" style="left:815.4px;top:126.7px;">7.4</div>
<div class="bnum" style="left:815.4px;top:154.1px;">5.55</div>
<div class="bnum" style="left:815.4px;top:181.9px;">3.7</div>
<div class="bnum" style="left:815.4px;top:210.3px;">2.6</div>
<div class="bnum" style="left:815.4px;top:237.7px;">1.6</div>
<div class="bnum" style="left:815.4px;top:266.4px;">0.75</div>
<div class="bnum" style="left:834.76px;top:126.7px;">6.96</div>
<div class="bnum" style="left:834.76px;top:154.1px;">5.22</div>
<div class="bnum" style="left:834.76px;top:181.9px;">3.48</div>
<div class="bnum" style="left:834.76px;top:210.3px;">2.40</div>
<div class="bnum" style="left:834.76px;top:237.7px;">1.32</div>
<div class="bnum" style="left:834.76px;top:266.4px;">0.66</div>
<div class="bnum" style="left:854.11px;top:126.7px;">12.2</div>
<div class="bnum" style="left:854.11px;top:154.1px;">9.15</div>
<div class="bnum" style="left:854.11px;top:181.9px;">6.1</div>
<div class="bnum" style="left:854.11px;top:210.3px;">4.0</div>
<div class="bnum" style="left:854.11px;top:237.7px;">1.8</div>
<div class="bnum" style="left:854.11px;top:266.4px;">0.90</div>
<div class="bnum" style="left:873.47px;top:126.7px;">25.0</div>
<div class="bnum" style="left:873.47px;top:154.1px;">18.8</div>
<div class="bnum" style="left:873.47px;top:181.9px;">12.5</div>
<div class="bnum" style="left:873.47px;top:210.3px;">8.0</div>
<div class="bnum" style="left:873.47px;top:237.7px;">3.5</div>
<div class="bnum" style="left:873.47px;top:266.4px;">1.23</div>
<div class="bnum" style="left:892.83px;top:126.7px;">12.24</div>
<div class="bnum" style="left:892.83px;top:154.1px;">9.18</div>
<div class="bnum" style="left:892.83px;top:181.9px;">6.12</div>
<div class="bnum" style="left:892.83px;top:210.3px;">4.00</div>
<div class="bnum" style="left:892.83px;top:237.7px;">1.86</div>
<div class="bnum" style="left:892.83px;top:266.4px;">0.94</div>
<div class="bnum" style="left:912.19px;top:126.7px;">23.0</div>
<div class="bnum" style="left:912.19px;top:154.1px;">17.3</div>
<div class="bnum" style="left:912.19px;top:181.9px;">11.5</div>
<div class="bnum" style="left:912.19px;top:210.3px;">7.0</div>
<div class="bnum" style="left:912.19px;top:237.7px;">2.8</div>
<div class="bnum" style="left:912.19px;top:266.4px;">1.28</div>
<div class="bnum" style="left:931.54px;top:126.7px;">3.26</div>
<div class="bnum" style="left:931.54px;top:154.1px;">2.45</div>
<div class="bnum" style="left:931.54px;top:181.9px;">1.63</div>
<div class="bnum" style="left:931.54px;top:210.3px;">0.90</div>
<div class="bnum" style="left:931.54px;top:237.7px;">0.17</div>
<div class="bnum" style="left:931.54px;top:266.4px;">0.09</div>
<div class="ssym" style="left:813.4px;top:303.91px;width:19.36px;line-height:11.7px">Ca<br>/P</div>
<div class="gval" style="left:814.4px;top:328.7px;width:19.36px;text-align:center">1.43</div>
<div class="ssym" style="left:832.76px;top:303.91px;width:19.36px;line-height:11.7px">Na<br>/K</div>
<div class="gval" style="left:833.76px;top:328.7px;width:19.36px;text-align:center">1.81</div>
<div class="ssym" style="left:852.11px;top:303.91px;width:19.36px;line-height:11.7px">Ca<br>/K</div>
<div class="gval" style="left:853.11px;top:328.7px;width:19.36px;text-align:center">2.9</div>
<div class="ssym" style="left:871.47px;top:303.91px;width:19.36px;line-height:11.7px">Zn<br>/Cu</div>
<div class="gval" style="left:872.47px;top:328.7px;width:19.36px;text-align:center">21.74</div>
<div class="ssym" style="left:890.83px;top:303.91px;width:19.36px;line-height:11.7px">Na<br>/Mg</div>
<div class="gval" style="left:891.83px;top:328.7px;width:19.36px;text-align:center">5.49</div>
<div class="ssym" style="left:910.19px;top:303.91px;width:19.36px;line-height:11.7px">Ca<br>/Mg</div>
<div class="gval" style="left:911.19px;top:328.7px;width:19.36px;text-align:center">5.94</div>
<div class="ssym" style="left:929.54px;top:303.91px;width:19.36px;line-height:11.7px">Fe<br>/Cu</div>
<div class="gval" style="left:930.54px;top:328.7px;width:19.36px;text-align:center">1.72</div>
<div class="bnum" style="left:563.96px;top:374.2px;">1475</div>
<div class="bnum" style="left:563.96px;top:401.7px;">1107</div>
<div class="bnum" style="left:563.96px;top:430.7px;">738</div>
<div class="bnum" style="left:563.96px;top:457px;">468</div>
<div class="bnum" style="left:563.96px;top:485px;">185</div>
<div class="bnum" style="left:563.96px;top:512.7px;">95</div>
<div class="bnum" style="left:583.29px;top:374.2px;">440</div>
<div class="bnum" style="left:583.29px;top:401.7px;">330</div>
<div class="bnum" style="left:583.29px;top:430.7px;">220</div>
<div class="bnum" style="left:583.29px;top:457px;">175</div>
<div class="bnum" style="left:583.29px;top:485px;">120</div>
<div class="bnum" style="left:583.29px;top:512.7px;">65</div>
<div class="bnum" style="left:602.62px;top:374.2px;">960</div>
<div class="bnum" style="left:602.62px;top:401.7px;">720</div>
<div class="bnum" style="left:602.62px;top:430.7px;">480</div>
<div class="bnum" style="left:602.62px;top:457px;">360</div>
<div class="bnum" style="left:602.62px;top:485px;">40</div>
<div class="bnum" style="left:602.62px;top:512.7px;">20</div>
<div class="bnum" style="left:621.95px;top:374.2px;">412</div>
<div class="bnum" style="left:621.95px;top:401.7px;">309</div>
<div class="bnum" style="left:621.95px;top:430.7px;">206</div>
<div class="bnum" style="left:621.95px;top:457px;">128</div>
<div class="bnum" style="left:621.95px;top:485px;">50</div>
<div class="bnum" style="left:621.95px;top:512.7px;">5</div>
<div class="bnum" style="left:641.28px;top:374.2px;">350</div>
<div class="bnum" style="left:641.28px;top:401.7px;">263</div>
<div class="bnum" style="left:641.28px;top:430.7px;">175</div>
<div class="bnum" style="left:641.28px;top:457px;">155</div>
<div class="bnum" style="left:641.28px;top:485px;">81</div>
<div class="bnum" style="left:641.28px;top:512.7px;">40.5</div>
<div class="bnum" style="left:660.61px;top:374.2px;">54</div>
<div class="bnum" style="left:660.61px;top:401.7px;">41</div>
<div class="bnum" style="left:660.61px;top:430.7px;">27</div>
<div class="bnum" style="left:660.61px;top:457px;">16</div>
<div class="bnum" style="left:660.61px;top:485px;">5</div>
<div class="bnum" style="left:660.61px;top:512.7px;">2.5</div>
<div class="bnum" style="left:679.94px;top:374.2px;">230</div>
<div class="bnum" style="left:679.94px;top:401.7px;">173</div>
<div class="bnum" style="left:679.94px;top:430.7px;">115</div>
<div class="bnum" style="left:679.94px;top:457px;">65</div>
<div class="bnum" style="left:679.94px;top:485px;">16</div>
<div class="bnum" style="left:679.94px;top:512.7px;">7.5</div>
<div class="bnum" style="left:699.27px;top:374.2px;">42</div>
<div class="bnum" style="left:699.27px;top:401.7px;">32</div>
<div class="bnum" style="left:699.27px;top:430.7px;">21</div>
<div class="bnum" style="left:699.27px;top:457px;">14</div>
<div class="bnum" style="left:699.27px;top:485px;">7</div>
<div class="bnum" style="left:699.27px;top:512.7px;">3.5</div>
<div class="bnum" style="left:718.6px;top:374.2px;">1.72</div>
<div class="bnum" style="left:718.6px;top:401.7px;">1.30</div>
<div class="bnum" style="left:718.6px;top:430.7px;">0.86</div>
<div class="bnum" style="left:718.6px;top:457px;">0.55</div>
<div class="bnum" style="left:718.6px;top:485px;">0.25</div>
<div class="bnum" style="left:718.6px;top:512.7px;">0.12</div>
<div class="bnum" style="left:737.93px;top:374.2px;">7.50</div>
<div class="bnum" style="left:737.93px;top:401.7px;">5.60</div>
<div class="bnum" style="left:737.93px;top:430.7px;">3.75</div>
<div class="bnum" style="left:737.93px;top:457px;">2.15</div>
<div class="bnum" style="left:737.93px;top:485px;">0.85</div>
<div class="bnum" style="left:737.93px;top:512.7px;">0.28</div>
<div class="bnum" style="left:757.26px;top:374.2px;">1.6</div>
<div class="bnum" style="left:757.26px;top:401.7px;">1.2</div>
<div class="bnum" style="left:757.26px;top:430.7px;">0.8</div>
<div class="bnum" style="left:757.26px;top:457px;">0.5</div>
<div class="bnum" style="left:757.26px;top:485px;">0.2</div>
<div class="bnum" style="left:757.26px;top:512.7px;">0.1</div>
<div class="bnum" style="left:776.59px;top:374.2px;">0.6</div>
<div class="bnum" style="left:776.59px;top:401.7px;">0.6</div>
<div class="bnum" style="left:776.59px;top:430.7px;">0.4</div>
<div class="bnum" style="left:776.59px;top:457px;">0.2</div>
<div class="bnum" style="left:776.59px;top:485px;">0.01</div>
<div class="bnum" style="left:776.59px;top:512.7px;">0.005</div>
<div class="bnum" style="left:795.92px;top:374.2px;">0.6</div>
<div class="bnum" style="left:795.92px;top:401.7px;">0.45</div>
<div class="bnum" style="left:795.92px;top:430.7px;">0.3</div>
<div class="bnum" style="left:795.92px;top:457px;">0.16</div>
<div class="bnum" style="left:795.92px;top:485px;">0.01</div>
<div class="bnum" style="left:795.92px;top:512.7px;">0.005</div>
<div class="bnum" style="left:815.25px;top:374.2px;">20</div>
<div class="bnum" style="left:815.25px;top:401.7px;">15</div>
<div class="bnum" style="left:815.25px;top:430.7px;">10</div>
<div class="bnum" style="left:815.25px;top:457px;">5.1</div>
<div class="bnum" style="left:815.25px;top:485px;">0.1</div>
<div class="bnum" style="left:815.25px;top:512.7px;">0.05</div>
<div class="bnum" style="left:834.58px;top:374.2px;">14</div>
<div class="bnum" style="left:834.58px;top:401.7px;">10.5</div>
<div class="bnum" style="left:834.58px;top:430.7px;">7</div>
<div class="bnum" style="left:834.58px;top:457px;">3.8</div>
<div class="bnum" style="left:834.58px;top:485px;">0.6</div>
<div class="bnum" style="left:834.58px;top:512.7px;">0.3</div>
<div class="bnum" style="left:853.91px;top:374.2px;">0.24</div>
<div class="bnum" style="left:853.91px;top:401.7px;">0.18</div>
<div class="bnum" style="left:853.91px;top:430.7px;">0.12</div>
<div class="bnum" style="left:853.91px;top:457px;">0.06</div>
<div class="bnum" style="left:853.91px;top:485px;">0</div>
<div class="bnum" style="left:853.91px;top:512.7px;">0</div>
<div class="bnum" style="left:873.24px;top:374.2px;">0.2</div>
<div class="bnum" style="left:873.24px;top:401.7px;">0.15</div>
<div class="bnum" style="left:873.24px;top:430.7px;">0.1</div>
<div class="bnum" style="left:873.24px;top:457px;">0.05</div>
<div class="bnum" style="left:873.24px;top:485px;">0</div>
<div class="bnum" style="left:873.24px;top:512.7px;">0</div>
<div class="bnum" style="left:892.57px;top:374.2px;">0.4</div>
<div class="bnum" style="left:892.57px;top:401.7px;">0.3</div>
<div class="bnum" style="left:892.57px;top:430.7px;">0.2</div>
<div class="bnum" style="left:892.57px;top:457px;">0.1</div>
<div class="bnum" style="left:892.57px;top:485px;">0</div>
<div class="bnum" style="left:892.57px;top:512.7px;">0</div>
<div class="bnum" style="left:911.9px;top:374.2px;">1.2</div>
<div class="bnum" style="left:911.9px;top:401.7px;">0.9</div>
<div class="bnum" style="left:911.9px;top:430.7px;">0.6</div>
<div class="bnum" style="left:911.9px;top:457px;">0.3</div>
<div class="bnum" style="left:911.9px;top:485px;">0</div>
<div class="bnum" style="left:911.9px;top:512.7px;">0</div>
<div class="bnum" style="left:931.23px;top:374.2px;">110000</div>
<div class="bnum" style="left:931.23px;top:401.7px;">82500</div>
<div class="bnum" style="left:931.23px;top:430.7px;">55000</div>
<div class="bnum" style="left:931.23px;top:457px;">45000</div>
<div class="bnum" style="left:931.23px;top:485px;">35000</div>
<div class="bnum" style="left:931.23px;top:512.7px;">17500</div>
<div class="nsym" style="left:562.16px;top:545.8px;width:19.33px">Ca</div>
<div class="nkor" style="left:562.16px;top:563.5px;width:19.33px"><span style="display:inline-block;transform:scaleX(1.00)">칼슘</span></div>
<div class="nval" style="left:560.16px;top:568.1px;width:19.33px;text-align:center">449</div>
<div class="nsym" style="left:581.49px;top:545.8px;width:19.33px">P</div>
<div class="nkor" style="left:581.49px;top:563.5px;width:19.33px"><span style="display:inline-block;transform:scaleX(1.00)">인</span></div>
<div class="nval" style="left:579.49px;top:568.1px;width:19.33px;text-align:center">314</div>
<div class="nsym" style="left:600.82px;top:545.8px;width:19.33px">Na</div>
<div class="nkor" style="left:600.82px;top:563.5px;width:19.33px"><span style="display:inline-block;transform:scaleX(1.00)">나트륨</span></div>
<div class="nval" style="left:598.82px;top:568.1px;width:19.33px;text-align:center">414</div>
<div class="nsym" style="left:620.15px;top:545.8px;width:19.33px">K</div>
<div class="nkor" style="left:620.15px;top:563.5px;width:19.33px"><span style="display:inline-block;transform:scaleX(1.00)">칼륨</span></div>
<div class="nval" style="left:618.15px;top:568.1px;width:19.33px;text-align:center">228</div>
<div class="nsym" style="left:639.48px;top:545.8px;width:19.33px">Zn</div>
<div class="nkor" style="left:639.48px;top:563.5px;width:19.33px"><span style="display:inline-block;transform:scaleX(1.00)">아연</span></div>
<div class="nval" style="left:637.48px;top:568.1px;width:19.33px;text-align:center">199</div>
<div class="nsym" style="left:658.81px;top:545.8px;width:19.33px">Cu</div>
<div class="nkor" style="left:658.81px;top:563.5px;width:19.33px"><span style="display:inline-block;transform:scaleX(1.00)">구리</span></div>
<div class="nval" style="left:656.81px;top:568.1px;width:19.33px;text-align:center">9.2</div>
<div class="nsym" style="left:678.14px;top:545.8px;width:19.33px">Mg</div>
<div class="nkor" style="left:678.14px;top:563.5px;width:19.33px"><span style="display:inline-block;transform:scaleX(0.75)">마그네슘</span></div>
<div class="nval" style="left:676.14px;top:568.1px;width:19.33px;text-align:center">75</div>
<div class="nsym" style="left:697.47px;top:545.8px;width:19.33px">Fe</div>
<div class="nkor" style="left:697.47px;top:563.5px;width:19.33px"><span style="display:inline-block;transform:scaleX(1.00)">철</span></div>
<div class="nval" style="left:695.47px;top:568.1px;width:19.33px;text-align:center">15.7</div>
<div class="nsym" style="left:716.8px;top:545.8px;width:19.33px">Cr</div>
<div class="nkor" style="left:716.8px;top:563.5px;width:19.33px"><span style="display:inline-block;transform:scaleX(1.00)">크롬</span></div>
<div class="nval" style="left:714.8px;top:568.1px;width:19.33px;text-align:center">0.34</div>
<div class="nsym" style="left:736.13px;top:545.8px;width:19.33px">Se</div>
<div class="nkor" style="left:736.13px;top:563.5px;width:19.33px"><span style="display:inline-block;transform:scaleX(1.00)">셀레늄</span></div>
<div class="nval" style="left:734.13px;top:568.1px;width:19.33px;text-align:center">1.03</div>
<div class="nsym" style="left:755.46px;top:545.8px;width:19.33px">Mn</div>
<div class="nkor" style="left:755.46px;top:563.5px;width:19.33px"><span style="display:inline-block;transform:scaleX(1.00)">망간</span></div>
<div class="nval" style="left:753.46px;top:568.1px;width:19.33px;text-align:center">0.17</div>
<div class="nsym" style="left:774.79px;top:545.8px;width:19.33px">Mo</div>
<div class="nkor" style="left:774.79px;top:563.5px;width:19.33px"><span style="display:inline-block;transform:scaleX(0.75)">몰리브덴</span></div>
<div class="nval" style="left:772.79px;top:568.1px;width:19.33px;text-align:center">0.054</div>
<div class="nsym" style="left:794.12px;top:545.8px;width:19.33px">V</div>
<div class="nkor" style="left:794.12px;top:563.5px;width:19.33px"><span style="display:inline-block;transform:scaleX(1.00)">바나듐</span></div>
<div class="nval" style="left:792.12px;top:568.1px;width:19.33px;text-align:center">0.026</div>
<div class="nsym" style="left:813.45px;top:545.8px;width:19.33px">B</div>
<div class="nkor" style="left:813.45px;top:563.5px;width:19.33px"><span style="display:inline-block;transform:scaleX(1.00)">붕소</span></div>
<div class="nval" style="left:811.45px;top:568.1px;width:19.33px;text-align:center">1.42</div>
<div class="nsym" style="left:832.78px;top:545.8px;width:19.33px">Sr</div>
<div class="nkor" style="left:832.78px;top:563.5px;width:19.33px"><span style="display:inline-block;transform:scaleX(0.75)">스트론튬</span></div>
<div class="nval" style="left:830.78px;top:568.1px;width:19.33px;text-align:center">1.30</div>
<div class="nsym" style="left:852.11px;top:545.8px;width:19.33px">Li</div>
<div class="nkor" style="left:852.11px;top:563.5px;width:19.33px"><span style="display:inline-block;transform:scaleX(1.00)">리튬</span></div>
<div class="nval" style="left:850.11px;top:568.1px;width:19.33px;text-align:center">0.037</div>
<div class="nsym" style="left:871.44px;top:545.8px;width:19.33px">Co</div>
<div class="nkor" style="left:871.44px;top:563.5px;width:19.33px"><span style="display:inline-block;transform:scaleX(1.00)">코발트</span></div>
<div class="nval" style="left:869.44px;top:568.1px;width:19.33px;text-align:center">0.008</div>
<div class="nsym" style="left:890.77px;top:545.8px;width:19.33px">Ge</div>
<div class="nkor" style="left:890.77px;top:563.5px;width:19.33px"><span style="display:inline-block;transform:scaleX(0.75)">게르마늄</span></div>
<div class="nval" style="left:888.77px;top:568.1px;width:19.33px;text-align:center">0.007</div>
<div class="nsym" style="left:910.1px;top:545.8px;width:19.33px">Sn</div>
<div class="nkor" style="left:910.1px;top:563.5px;width:19.33px"><span style="display:inline-block;transform:scaleX(1.00)">주석</span></div>
<div class="nval" style="left:908.1px;top:568.1px;width:19.33px;text-align:center">0.087</div>
<div class="nsym" style="left:929.43px;top:545.8px;width:19.33px">S</div>
<div class="nkor" style="left:929.43px;top:563.5px;width:19.33px"><span style="display:inline-block;transform:scaleX(1.00)">황</span></div>
<div class="nval" style="left:927.43px;top:568.1px;width:19.33px;text-align:center">51126</div>
<div style="left:263.55px;top:59.65px;font:400 9.67px 'Liberation Sans',sans-serif;line-height:0;color:#404040;transform:scaleX(0.865);transform-origin:0 0;">BIRTH</div>
<div style="left:263.56px;top:82.27px;font:400 9.18px 'Liberation Sans',sans-serif;line-height:0;color:#404040;transform:scaleX(0.845);transform-origin:0 0;">SEX</div>
<div style="left:167.86px;top:82.15px;font:400 9.96px 'Liberation Sans',sans-serif;line-height:0;color:#404040;transform:scaleX(0.692);transform-origin:0 0;">PATIENT</div>
<div style="left:358.41px;top:76.58px;font:400 8.90px 'Liberation Sans',sans-serif;line-height:0;color:#404040;transform:scaleX(0.842);transform-origin:0 0;">REPORT</div>
<div style="left:377.32px;top:86.77px;font:400 9.46px 'Liberation Sans',sans-serif;line-height:0;color:#404040;transform:scaleX(0.914);transform-origin:0 0;">No.</div>
<div style="left:310.88px;top:57.90px;font:400 10.47px 'Liberation Serif',serif;line-height:0;color:#444;transform:scaleX(0.970);transform-origin:0 0;">880126</div>
<div style="left:323.14px;top:80.81px;font:400 10.06px 'Liberation Serif',serif;line-height:0;color:#444;transform:scaleX(1.041);transform-origin:0 0;">F</div>
<div style="left:410.00px;top:80.20px;font:400 10.76px 'Liberation Serif',serif;line-height:0;color:#444;transform:scaleX(0.918);transform-origin:0 0;">A15091701</div>
<div style="left:51.70px;top:118.57px;font:700 10.85px 'Liberation Sans',sans-serif;line-height:0;color:#84483a;transform:scaleX(0.724);transform-origin:0 0;">TOXIC ELEMENTS</div>
<div style="left:57.29px;top:180.95px;font:400 7.87px 'Liberation Sans',sans-serif;line-height:0;color:#a0604e;transform:scaleX(0.992);transform-origin:0 0;">High</div>
<div style="left:51.21px;top:271.31px;font:400 8.27px 'Liberation Sans',sans-serif;line-height:0;color:#a0604e;transform:scaleX(0.759);transform-origin:0 0;">Reference</div>
<div style="left:57.10px;top:281.27px;font:400 7.31px 'Liberation Sans',sans-serif;line-height:0;color:#a0604e;transform:scaleX(0.874);transform-origin:0 0;">range</div>
<div style="left:52.24px;top:315.34px;font:400 7.33px 'Liberation Sans',sans-serif;line-height:0;color:#a0604e;transform:scaleX(0.975);transform-origin:0 0;">Element</div>
<div style="left:54.66px;top:338.21px;font:400 7.59px 'Liberation Sans',sans-serif;line-height:0;color:#a0604e;transform:scaleX(0.949);transform-origin:0 0;">Gauge</div>
<div style="left:303.57px;top:119.07px;font:700 10.30px 'Liberation Sans',sans-serif;line-height:0;color:#4c4c78;transform:scaleX(0.802);transform-origin:0 0;">SIGNIFICANT RATIO</div>
<div style="left:309.12px;top:157.61px;font:400 7.76px 'Liberation Sans',sans-serif;line-height:0;color:#4a4a7e;transform:scaleX(0.958);transform-origin:0 0;">High</div>
<div style="left:302.51px;top:210.73px;font:400 8.33px 'Liberation Sans',sans-serif;line-height:0;color:#707094;transform:scaleX(0.747);transform-origin:0 0;">Reference</div>
<div style="left:308.35px;top:217.00px;font:400 7.97px 'Liberation Sans',sans-serif;line-height:0;color:#707094;transform:scaleX(0.805);transform-origin:0 0;">range</div>
<div style="left:310.03px;top:268.53px;font:400 8.21px 'Liberation Sans',sans-serif;line-height:0;color:#4a4a7e;transform:scaleX(0.882);transform-origin:0 0;">Low</div>
<div style="left:303.53px;top:314.65px;font:400 8.13px 'Liberation Sans',sans-serif;line-height:0;color:#707094;transform:scaleX(0.893);transform-origin:0 0;">Element</div>
<div style="left:306.66px;top:338.02px;font:400 7.92px 'Liberation Sans',sans-serif;line-height:0;color:#707094;transform:scaleX(0.905);transform-origin:0 0;">Gauge</div>
<div style="left:50.51px;top:366.77px;font:700 10.30px 'Liberation Sans',sans-serif;line-height:0;color:#4c4c78;transform:scaleX(0.765);transform-origin:0 0;">NUTRITIONAL ELEMENTS</div>
<div style="left:56.81px;top:403.67px;font:400 7.66px 'Liberation Sans',sans-serif;line-height:0;color:#4a4a7e;transform:scaleX(0.985);transform-origin:0 0;">High</div>
<div style="left:50.51px;top:455.76px;font:400 8.67px 'Liberation Sans',sans-serif;line-height:0;color:#707094;transform:scaleX(0.719);transform-origin:0 0;">Reference</div>
<div style="left:56.70px;top:465.25px;font:400 8.23px 'Liberation Sans',sans-serif;line-height:0;color:#707094;transform:scaleX(0.782);transform-origin:0 0;">range</div>
<div style="left:58.03px;top:515.38px;font:400 7.79px 'Liberation Sans',sans-serif;line-height:0;color:#4a4a7e;transform:scaleX(0.943);transform-origin:0 0;">Low</div>
<div style="left:52.04px;top:560.00px;font:400 8.00px 'Liberation Sans',sans-serif;line-height:0;color:#707094;transform:scaleX(0.897);transform-origin:0 0;">Element</div>
<div style="left:54.36px;top:584.15px;font:400 7.70px 'Liberation Sans',sans-serif;line-height:0;color:#707094;transform:scaleX(0.949);transform-origin:0 0;">Gauge</div>
<div style="left:740.85px;top:58.75px;font:400 9.67px 'Liberation Sans',sans-serif;line-height:0;color:#404040;transform:scaleX(0.865);transform-origin:0 0;">BIRTH</div>
<div style="left:740.86px;top:81.37px;font:400 9.18px 'Liberation Sans',sans-serif;line-height:0;color:#404040;transform:scaleX(0.845);transform-origin:0 0;">SEX</div>
<div style="left:645.16px;top:81.25px;font:400 9.96px 'Liberation Sans',sans-serif;line-height:0;color:#404040;transform:scaleX(0.692);transform-origin:0 0;">PATIENT</div>
<div style="left:835.71px;top:75.68px;font:400 8.90px 'Liberation Sans',sans-serif;line-height:0;color:#404040;transform:scaleX(0.842);transform-origin:0 0;">REPORT</div>
<div style="left:854.62px;top:85.87px;font:400 9.46px 'Liberation Sans',sans-serif;line-height:0;color:#404040;transform:scaleX(0.914);transform-origin:0 0;">No.</div>
<div style="left:802.64px;top:79.91px;font:400 10.06px 'Liberation Serif',serif;line-height:0;color:#444;transform:scaleX(1.041);transform-origin:0 0;">F</div>
<div style="left:887.30px;top:79.30px;font:400 10.76px 'Liberation Serif',serif;line-height:0;color:#444;transform:scaleX(0.918);transform-origin:0 0;">A16030902</div>
<div style="left:529.00px;top:117.67px;font:700 10.85px 'Liberation Sans',sans-serif;line-height:0;color:#84483a;transform:scaleX(0.724);transform-origin:0 0;">TOXIC ELEMENTS</div>
<div style="left:534.59px;top:180.05px;font:400 7.87px 'Liberation Sans',sans-serif;line-height:0;color:#a0604e;transform:scaleX(0.992);transform-origin:0 0;">High</div>
<div style="left:528.51px;top:270.41px;font:400 8.27px 'Liberation Sans',sans-serif;line-height:0;color:#a0604e;transform:scaleX(0.759);transform-origin:0 0;">Reference</div>
<div style="left:534.40px;top:280.37px;font:400 7.31px 'Liberation Sans',sans-serif;line-height:0;color:#a0604e;transform:scaleX(0.874);transform-origin:0 0;">range</div>
<div style="left:529.54px;top:314.44px;font:400 7.33px 'Liberation Sans',sans-serif;line-height:0;color:#a0604e;transform:scaleX(0.975);transform-origin:0 0;">Element</div>
<div style="left:531.96px;top:337.31px;font:400 7.59px 'Liberation Sans',sans-serif;line-height:0;color:#a0604e;transform:scaleX(0.949);transform-origin:0 0;">Gauge</div>
<div style="left:780.87px;top:118.17px;font:700 10.30px 'Liberation Sans',sans-serif;line-height:0;color:#4c4c78;transform:scaleX(0.802);transform-origin:0 0;">SIGNIFICANT RATIO</div>
<div style="left:786.42px;top:156.71px;font:400 7.76px 'Liberation Sans',sans-serif;line-height:0;color:#4a4a7e;transform:scaleX(0.958);transform-origin:0 0;">High</div>
<div style="left:779.81px;top:209.83px;font:400 8.33px 'Liberation Sans',sans-serif;line-height:0;color:#707094;transform:scaleX(0.747);transform-origin:0 0;">Reference</div>
<div style="left:785.65px;top:216.10px;font:400 7.97px 'Liberation Sans',sans-serif;line-height:0;color:#707094;transform:scaleX(0.805);transform-origin:0 0;">range</div>
<div style="left:787.33px;top:267.63px;font:400 8.21px 'Liberation Sans',sans-serif;line-height:0;color:#4a4a7e;transform:scaleX(0.882);transform-origin:0 0;">Low</div>
<div style="left:780.83px;top:313.75px;font:400 8.13px 'Liberation Sans',sans-serif;line-height:0;color:#707094;transform:scaleX(0.893);transform-origin:0 0;">Element</div>
<div style="left:783.96px;top:337.12px;font:400 7.92px 'Liberation Sans',sans-serif;line-height:0;color:#707094;transform:scaleX(0.905);transform-origin:0 0;">Gauge</div>
<div style="left:527.81px;top:366.07px;font:700 10.30px 'Liberation Sans',sans-serif;line-height:0;color:#4c4c78;transform:scaleX(0.765);transform-origin:0 0;">NUTRITIONAL ELEMENTS</div>
<div style="left:534.11px;top:402.97px;font:400 7.66px 'Liberation Sans',sans-serif;line-height:0;color:#4a4a7e;transform:scaleX(0.985);transform-origin:0 0;">High</div>
<div style="left:527.81px;top:455.06px;font:400 8.67px 'Liberation Sans',sans-serif;line-height:0;color:#707094;transform:scaleX(0.719);transform-origin:0 0;">Reference</div>
<div style="left:534.00px;top:464.55px;font:400 8.23px 'Liberation Sans',sans-serif;line-height:0;color:#707094;transform:scaleX(0.782);transform-origin:0 0;">range</div>
<div style="left:535.33px;top:514.68px;font:400 7.79px 'Liberation Sans',sans-serif;line-height:0;color:#4a4a7e;transform:scaleX(0.943);transform-origin:0 0;">Low</div>
<div style="left:529.34px;top:559.30px;font:400 8.00px 'Liberation Sans',sans-serif;line-height:0;color:#707094;transform:scaleX(0.897);transform-origin:0 0;">Element</div>
<div style="left:531.66px;top:583.45px;font:400 7.70px 'Liberation Sans',sans-serif;line-height:0;color:#707094;transform:scaleX(0.949);transform-origin:0 0;">Gauge</div>
</body></html>
